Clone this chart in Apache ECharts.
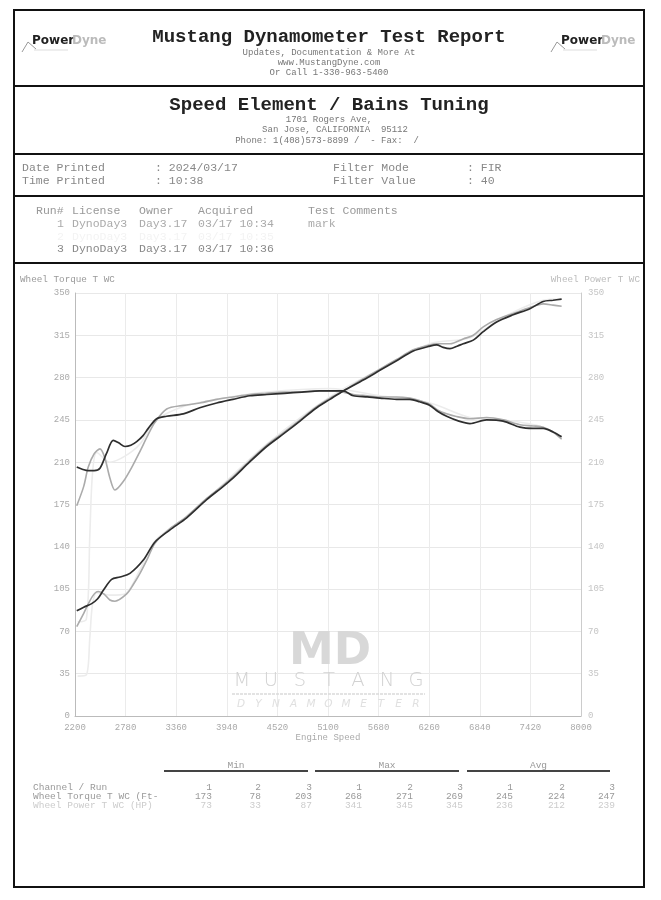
<!DOCTYPE html>
<html>
<head>
<meta charset="utf-8">
<script src="https://cdn.jsdelivr.net/npm/echarts@6/dist/echarts.min.js"></script>
<style>
  html, body { margin: 0; padding: 0; background: #fff; }
  #chart { width: 661px; height: 900px; }
</style>
</head>
<body>
<div id="chart"></div>
<script>
// run data: [engine speed, value]
const torqueRun1 = [[2220,174],[2300,190],[2352,206],[2420,217],[2486,221],[2540,214],[2600,197],[2658,187],[2753,194],[2860,207],[2945,219],[3040,233],[3117,243],[3251,254],[3441,257],[3630,259],[3824,262],[4010,264],[4205,266],[4397,267],[4600,268],[4800,268],[5000,269],[5122,269],[5275,268],[5390,266],[5550,265],[5695,264],[5886,264],[6039,263],[6150,261],[6268,258],[6360,253],[6460,250],[6560,248],[6727,246],[6918,247],[7108,245],[7300,241],[7450,240],[7567,239],[7680,235],[7778,229]]
const torqueRun2 = [[2230,78],[2330,80],[2370,150],[2400,200],[2450,218],[2600,210],[2773,215],[2945,225],[3117,244],[3441,256],[3824,262],[4397,268],[5122,271],[5695,265],[6268,259],[6727,247],[7108,245],[7567,239],[7778,230]]
const torqueRun3 = [[2220,206],[2290,204],[2352,203],[2420,203],[2486,205],[2560,217],[2639,228],[2700,226],[2773,223],[2840,224],[2907,227],[2980,232],[3040,238],[3136,246],[3250,248],[3441,250],[3630,255],[3824,259],[4010,262],[4205,265],[4400,266],[4600,267],[4800,268],[5000,269],[5122,269],[5275,269],[5390,265],[5550,264],[5695,263],[5886,262],[6039,262],[6150,260],[6268,257],[6360,252],[6460,248],[6600,244],[6727,242],[6918,245],[7108,244],[7300,239],[7450,238],[7567,238],[7680,235],[7778,231]]

const powerRun1 = [[2220,74],[2300,85],[2400,99],[2467,103],[2530,101],[2600,96],[2658,95],[2792,101],[2870,109],[2945,118],[3030,130],[3117,143],[3289,155],[3480,165],[3709,180],[3900,191],[4014,198],[4200,211],[4397,224],[4600,235],[4779,245],[4950,255],[5122,263],[5275,269],[5504,279],[5695,287],[5886,295],[6077,303],[6268,307],[6345,308],[6498,308],[6650,312],[6765,315],[6880,322],[7033,328],[7223,333],[7414,338],[7567,341],[7680,340],[7778,339]]
const powerRun2 = [[2230,33],[2330,34],[2370,65],[2400,92],[2450,102],[2600,100],[2773,101],[2945,121],[3117,145],[3441,163],[3824,187],[4397,225],[5122,264],[5695,287],[6268,308],[6727,313],[7108,330],[7567,344],[7778,345]]
const powerRun3 = [[2220,87],[2300,90],[2391,93],[2460,97],[2525,104],[2620,113],[2716,115],[2830,118],[2983,129],[3117,144],[3289,154],[3480,164],[3709,179],[3900,190],[4014,197],[4200,210],[4397,223],[4600,234],[4779,244],[4950,254],[5122,262],[5275,269],[5504,278],[5695,286],[5886,294],[6077,302],[6268,306],[6345,307],[6420,305],[6498,304],[6580,306],[6650,308],[6765,311],[6880,318],[7033,326],[7223,332],[7414,337],[7567,343],[7680,344],[7778,345]]

// summary table
const statGroups = ['Min', 'Max', 'Avg']
const runNumbers = ['1', '2', '3']
const torqueStats = [173, 78, 203, 268, 271, 269, 245, 224, 247]
const powerStats = [73, 33, 87, 341, 345, 345, 236, 212, 239]

// run list
const runRows = [
  ['1', 'DynoDay3', 'Day3.17', '03/17 10:34', 'mark'],
  ['2', 'DynoDay3', 'Day3.17', '03/17 10:35', ''],
  ['3', 'DynoDay3', 'Day3.17', '03/17 10:36', '']
]
const runColors = ['#aaa', '#f3f3f3', '#888']
const lineColors = ['#ababab', '#ececec', '#2e2e2e']

const MONO = '"Liberation Mono", "DejaVu Sans Mono", monospace'
const SANS = '"DejaVu Sans", sans-serif'

const graphic = []
function txt (x, y, s, size, fill, opts) {
  opts = opts || {}
  graphic.push({
    type: 'text',
    z: opts.z || 10,
    style: {
      text: s,
      x: x,
      y: y,
      fill: fill,
      font: (opts.italic ? 'italic ' : '') + (opts.weight ? opts.weight + ' ' : '') + size + 'px ' + (opts.family || MONO),
      align: opts.align || 'left',
      verticalAlign: 'middle'
    }
  })
}
function hline (x1, x2, y, color, w, z, dash) {
  graphic.push({ type: 'line', z: z || 10, shape: { x1: x1, y1: y, x2: x2, y2: y }, style: { stroke: color, lineWidth: w, lineDash: dash || null } })
}

// page frame
graphic.push({ type: 'rect', z: 10, shape: { x: 14, y: 10, width: 630, height: 877 }, style: { fill: 'none', stroke: '#111', lineWidth: 2 } })
hline(14, 644, 86, '#111', 2)
hline(14, 644, 154, '#111', 2)
hline(14, 644, 196, '#111', 2)
hline(14, 644, 263, '#111', 2)

// logos
function logo (x) {
  txt(x + 10, 41, 'Power', 12, '#222', { weight: 'bold', family: SANS })
  txt(x + 50, 41, 'Dyne', 12, '#bbb', { weight: 'bold', family: SANS })
  graphic.push({ type: 'polyline', z: 10, shape: { points: [[x, 52], [x + 6, 42], [x + 14, 49]] }, style: { stroke: '#999', lineWidth: 1, fill: 'none' } })
  hline(x + 12, x + 46, 50, '#ddd', 1)
}
logo(22)
logo(551)

// header
txt(329, 37, 'Mustang Dynamometer Test Report', 19, '#222', { weight: 'bold', align: 'center' })
txt(329, 53, 'Updates, Documentation & More At', 9, '#777', { align: 'center' })
txt(329, 63, 'www.MustangDyne.com', 9, '#777', { align: 'center' })
txt(329, 73, 'Or Call 1-330-963-5400', 9, '#777', { align: 'center' })

txt(329, 105, 'Speed Element / Bains Tuning', 19, '#222', { weight: 'bold', align: 'center' })
txt(329, 120, '1701 Rogers Ave,', 9, '#777', { align: 'center' })
txt(335, 130, 'San Jose, CALIFORNIA  95112', 9, '#777', { align: 'center' })
txt(327, 141, 'Phone: 1(408)573-8899 /  - Fax:  /', 9, '#777', { align: 'center' })

txt(22, 168, 'Date Printed', 11.5, '#888')
txt(22, 181, 'Time Printed', 11.5, '#888')
txt(155, 168, ': 2024/03/17', 11.5, '#888')
txt(155, 181, ': 10:38', 11.5, '#888')
txt(333, 168, 'Filter Mode', 11.5, '#888')
txt(333, 181, 'Filter Value', 11.5, '#888')
txt(467, 168, ': FIR', 11.5, '#888')
txt(467, 181, ': 40', 11.5, '#888')

// run list
const runCols = [36, 72, 139, 198, 308]
const runHead = ['Run#', 'License', 'Owner', 'Acquired', 'Test Comments']
runHead.forEach((h, i) => txt(runCols[i], 211, h, 11.5, '#999'))
runRows.forEach((r, k) => {
  const y = 224 + k * 12.5
  txt(64, y, r[0], 11.5, runColors[k], { align: 'right' })
  for (let i = 1; i < r.length; i++) txt(runCols[i], y, r[i], 11.5, runColors[k])
})

// axis titles
txt(20, 280, 'Wheel Torque T WC', 9.3, '#999')
txt(640, 280, 'Wheel Power T WC', 9.3, '#bbb', { align: 'right' })

// watermark
txt(330, 652, 'MD', 45, '#d8d8d8', { weight: 'bold', align: 'center', family: SANS, z: 1 })
'MUSTANG'.split('').forEach((c, i) => {
  txt(242 + i * 29, 681, c, 19.5, '#d2d2d2', { weight: 200, align: 'center', family: SANS, z: 1 })
})
hline(232, 425, 694, '#dadada', 1.5, 1, [3, 1])
'DYNAMOMETER'.split('').forEach((c, i) => {
  txt(241 + i * 17.5, 704, c, 10.5, '#e0e0e0', { italic: true, align: 'center', family: SANS, z: 1 })
})

// summary table
const groupX = [[164, 308], [315, 459], [467, 610]]
statGroups.forEach((g, i) => {
  txt((groupX[i][0] + groupX[i][1]) / 2, 765, g, 9.5, '#999', { align: 'center' })
  hline(groupX[i][0], groupX[i][1], 771, '#444', 2)
})
const colRight = [212, 261, 312, 362, 413, 463, 513, 565, 615]
txt(33, 787, 'Channel / Run', 9.5, '#999')
txt(33, 796, 'Wheel Torque T WC (Ft-', 9.5, '#999')
txt(33, 805, 'Wheel Power T WC (HP)', 9.5, '#ccc')
colRight.forEach((x, i) => {
  txt(x, 787, runNumbers[i % 3], 9.5, '#999', { align: 'right' })
  txt(x, 796, String(torqueStats[i]), 9.5, '#999', { align: 'right' })
  txt(x, 805, String(powerStats[i]), 9.5, '#ccc', { align: 'right' })
})

function lineSeries (data, k, yIdx) {
  return {
    type: 'line',
    data: data,
    yAxisIndex: yIdx,
    smooth: 0.3,
    showSymbol: false,
    z: k === 2 ? 5 : (k === 0 ? 4 : 3),
    lineStyle: { color: lineColors[k], width: k === 2 ? 1.7 : 1.6 }
  }
}

const axisLabel = { color: '#aaa', fontSize: 9, fontFamily: MONO }
const chart = echarts.init(document.getElementById('chart'), null, { renderer: 'canvas' })
chart.setOption({
  backgroundColor: '#fff',
  animation: false,
  grid: { left: 75, right: 80, top: 293, bottom: 184 },
  xAxis: {
    type: 'value',
    min: 2200,
    max: 8000,
    interval: 580,
    name: 'Engine Speed',
    nameLocation: 'middle',
    nameGap: 17,
    nameTextStyle: { color: '#aaa', fontSize: 9, fontFamily: MONO },
    axisLine: { lineStyle: { color: '#bbb' } },
    axisTick: { show: false },
    axisLabel: Object.assign({ margin: 7, formatter: v => String(v) }, axisLabel),
    splitLine: { lineStyle: { color: '#ebebeb' } }
  },
  yAxis: [
    {
      type: 'value', min: 0, max: 350, interval: 35, position: 'left',
      axisLine: { show: true, lineStyle: { color: '#bbb' } },
      axisTick: { show: false },
      axisLabel: Object.assign({ margin: 5 }, axisLabel),
      splitLine: { lineStyle: { color: '#e8e8e8' } }
    },
    {
      type: 'value', min: 0, max: 350, interval: 35, position: 'right',
      axisLine: { show: true, lineStyle: { color: '#ccc' } },
      axisTick: { show: false },
      axisLabel: Object.assign({ margin: 7 }, axisLabel, { color: '#c4c4c4' }),
      splitLine: { show: false }
    }
  ],
  graphic: graphic,
  series: [
    lineSeries(torqueRun2, 1, 0),
    lineSeries(powerRun2, 1, 1),
    lineSeries(torqueRun1, 0, 0),
    lineSeries(powerRun1, 0, 1),
    lineSeries(torqueRun3, 2, 0),
    lineSeries(powerRun3, 2, 1)
  ]
})
</script>
</body>
</html>
